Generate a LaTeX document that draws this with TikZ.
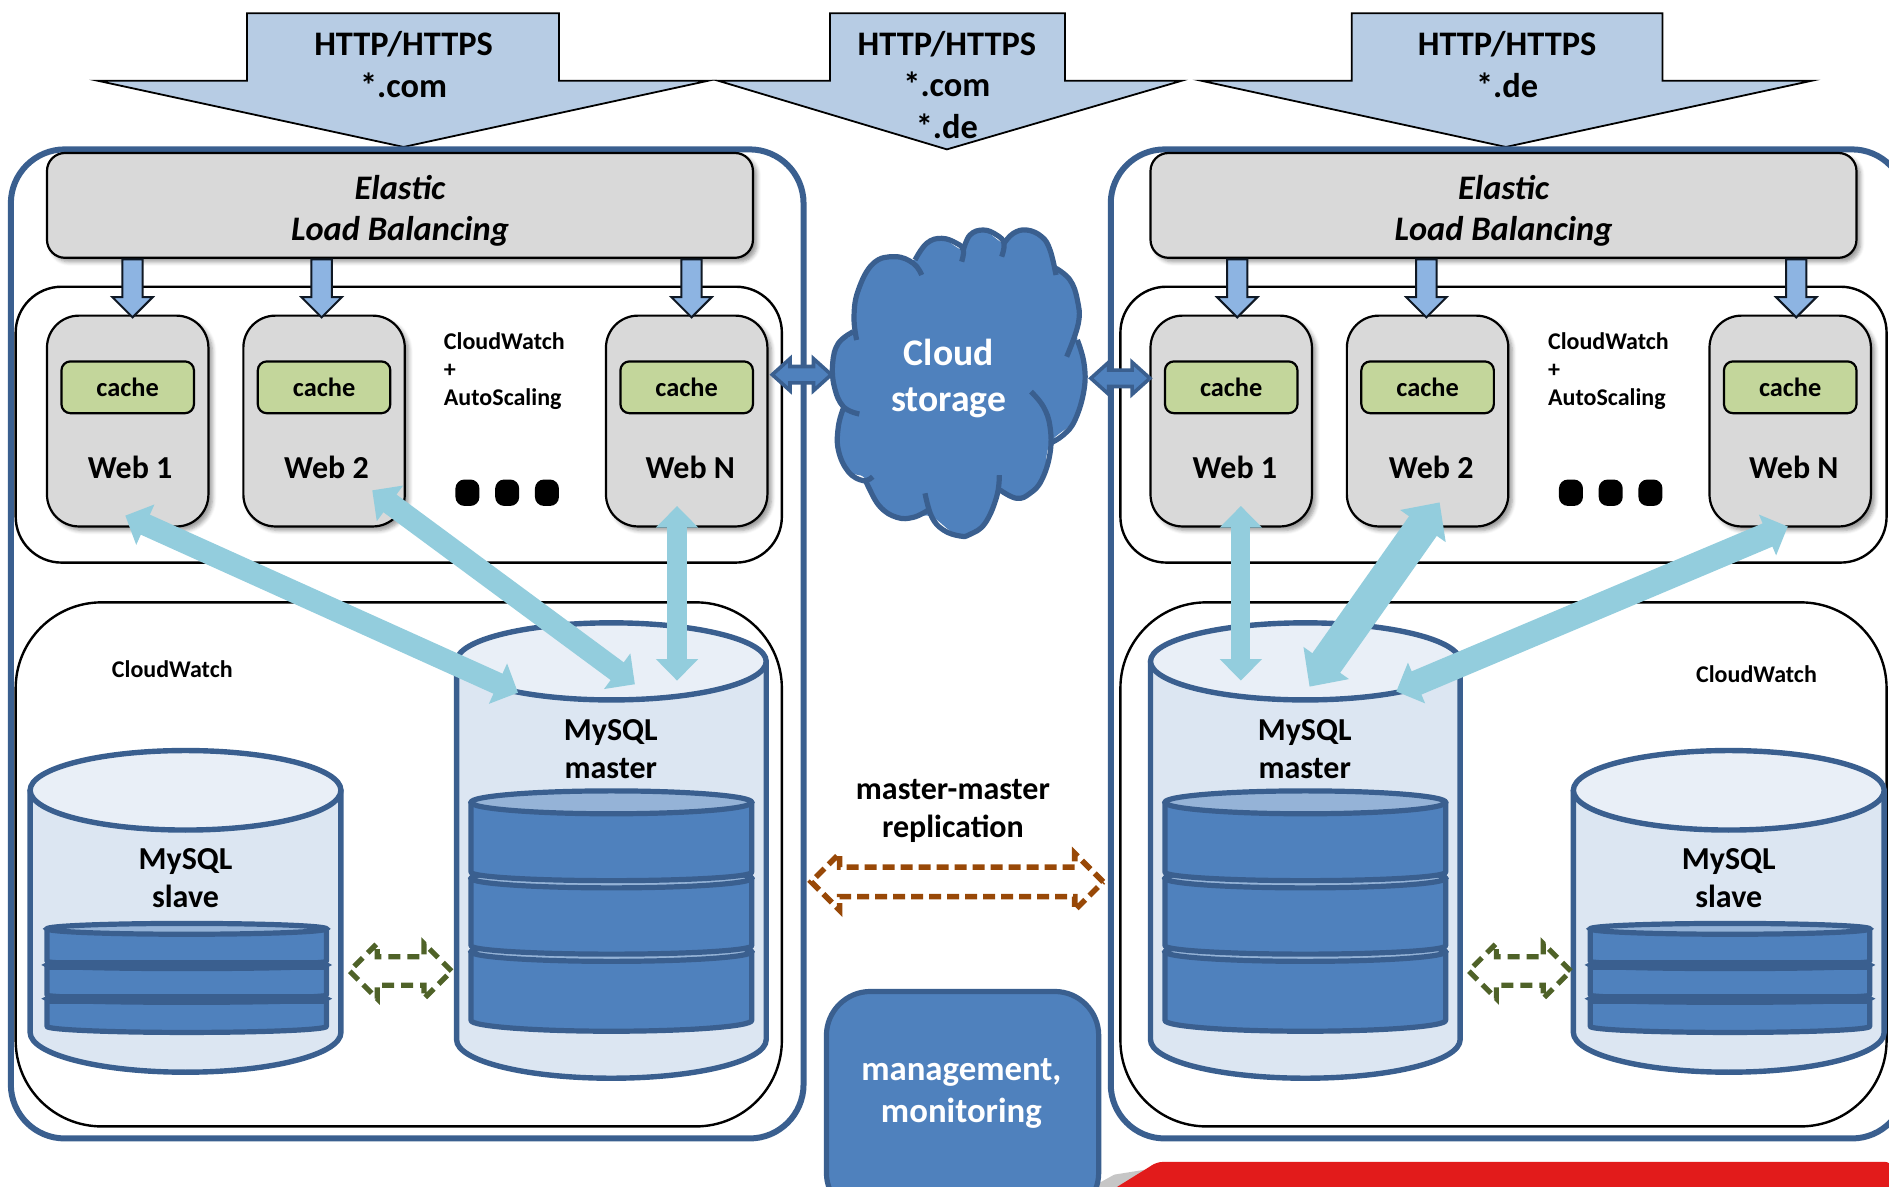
\documentclass[tikz,border=0pt]{standalone}
\usepackage{fontspec}
\setmainfont{Carlito}
\usetikzlibrary{arrows.meta,fit,shapes.arrows,shadows,shadows.blur}
\definecolor{lineB}{HTML}{3A5F8F}
\definecolor{diskB}{HTML}{4F81BD}
\definecolor{diskT}{HTML}{95B3D7}
\definecolor{canB}{HTML}{DCE6F2}
\definecolor{canT}{HTML}{E9EFF7}
\definecolor{topA}{HTML}{B7CCE4}
\definecolor{smallA}{HTML}{8DB4E2}
\definecolor{fatA}{HTML}{93CDDD}
\definecolor{cacheG}{HTML}{C3D69B}
\definecolor{grayB}{HTML}{D9D9D9}
\definecolor{brownA}{HTML}{984807}
\definecolor{greenA}{HTML}{4F6228}
\definecolor{redS}{HTML}{E21B1B}
\tikzset{
 base/.style={inner sep=0,outer sep=0,align=center,font=\bfseries},
 txtbig/.style={base,font=\fontsize{17.2}{20.9}\selectfont\bfseries},
 txtmid/.style={base,font=\fontsize{16}{19}\selectfont\bfseries},
 txtsmall/.style={base,align=left,font=\fontsize{12}{14.2}\selectfont\bfseries},
 txtelb/.style={base,font=\fontsize{17.2}{20.6}\selectfont\bfseries\itshape},
 txtcache/.style={base,font=\fontsize{13.2}{15}\selectfont\bfseries},
 outerbox/.style={base,draw=lineB,line width=3pt,rounded corners=27pt},
 grpweb/.style={base,draw=black,line width=1.2pt,rounded corners=23pt},
 grpdb/.style={base,draw=black,line width=1.2pt,rounded corners=43pt},
 elbbox/.style={base,draw=black,fill=grayB,line width=1.1pt,rounded corners=9pt,
   blur shadow={shadow xshift=2pt,shadow yshift=-2pt,shadow blur radius=2pt,shadow blur steps=5}},
 webbox/.style={base,draw=black,fill=grayB,line width=1.1pt,rounded corners=16pt,
   blur shadow={shadow xshift=2pt,shadow yshift=-2pt,shadow blur radius=2pt,shadow blur steps=5}},
 cachebox/.style={base,draw=black,fill=cacheG,line width=1.1pt,rounded corners=4.5pt},
 dotbox/.style={base,fill=black,minimum width=12pt,minimum height=13.2pt,rounded corners=4.5pt},
 toparrow/.style={draw=black,fill=topA,line width=.9pt,line join=miter},
 canstyle/.style={draw=lineB,fill=canB,line width=2.7pt,line join=round},
 cantop/.style={draw=lineB,fill=canT,line width=2.7pt},
 diskstyle/.style={draw=lineB,fill=diskB,line width=2.6pt,line join=round},
 disktop/.style={draw=lineB,fill=diskT,line width=2.6pt},
 diskdark/.style={draw=lineB,fill=lineB,line width=2.6pt},
 diskbar/.style={draw=lineB,line width=4.8pt},
 fat/.style n args={3}{draw=fatA,line width=#1,{Triangle[length=#3,width=#2,fill=fatA]}-{Triangle[length=#3,width=#2,fill=fatA]}},
 downarrow/.style={base,single arrow,draw=black!75!lineB,fill=smallA,line width=1pt,sloped,
   inner ysep=4.6pt,minimum height=29pt,single arrow head extend=5pt,single arrow tip angle=90,single arrow head indent=0pt},
 linkarrow/.style={base,double arrow,draw=lineB,fill=diskB,line width=1.8pt,
   inner ysep=3.2pt,minimum height=29.5pt,double arrow head extend=3.9pt,double arrow tip angle=84},
 repbrown/.style={base,double arrow,draw=brownA,line width=2.8pt,dash pattern=on 6pt off 3pt,
   inner ysep=6pt,minimum height=146pt,double arrow head extend=6.8pt,double arrow tip angle=90},
 repgreen/.style={base,double arrow,draw=greenA,line width=2.6pt,dash pattern=on 6pt off 3.5pt,
   inner ysep=5.8pt,minimum height=51pt,double arrow head extend=6.7pt,double arrow tip angle=90},
 mgmt/.style={base,draw=lineB,fill=diskB,line width=2.6pt,rounded corners=22pt,text=white},
 lobe/.style={draw=lineB,line width=2.6pt,line cap=butt},
}
\newcommand{\drawcan}[8]{%
 \pgfmathsetmacro\xm{(#1+#2)/2}\pgfmathsetmacro\rx{(#2-#1)/2}\pgfmathsetmacro\kx{0.5523*\rx}%
 \pgfmathsetmacro\kt{0.5523*#4}\pgfmathsetmacro\kb{0.5523*#6}%
 \draw[#7] (#1,#3) -- (#1,#5) .. controls (#1,{#5+\kb}) and ({\xm-\kx},{#5+#6}) .. (\xm,{#5+#6})
   .. controls ({\xm+\kx},{#5+#6}) and (#2,{#5+\kb}) .. (#2,#5) -- (#2,#3) -- cycle;
 \draw[#8] (#1,#3) .. controls (#1,{#3+\kt}) and ({\xm-\kx},{#3+#4}) .. (\xm,{#3+#4})
   .. controls ({\xm+\kx},{#3+#4}) and (#2,{#3+\kt}) .. (#2,#3)
   .. controls (#2,{#3-\kt}) and ({\xm+\kx},{#3-#4}) .. (\xm,{#3-#4})
   .. controls ({\xm-\kx},{#3-#4}) and (#1,{#3-\kt}) .. (#1,#3) -- cycle;
}
\newcommand{\mastercan}[2]{%
 \drawcan{#1}{\the\numexpr#1+257\relax}{549}{32}{863}{32}{canstyle}{cantop}%
 \node[txtmid] at (\the\numexpr#1+128\relax,621.5) (#2) {MySQL\\master};%
 \drawcan{\the\numexpr#1+12\relax}{\the\numexpr#1+245\relax}{790}{8}{847}{9}{diskstyle}{disktop}%
 \drawcan{\the\numexpr#1+12\relax}{\the\numexpr#1+245\relax}{729}{8}{785}{7}{diskstyle}{disktop}%
 \drawcan{\the\numexpr#1+12\relax}{\the\numexpr#1+245\relax}{666}{9.5}{724}{7}{diskstyle}{disktop}%
}
\newcommand{\slavecan}[2]{%
 \drawcan{#1}{\the\numexpr#1+258\relax}{656}{33}{857}{33}{canstyle}{cantop}%
 \node[txtmid] at (\the\numexpr#1+129\relax,729) (#2) {MySQL\\slave};%
 \drawcan{\the\numexpr#1+14\relax}{\the\numexpr#1+246\relax}{829}{3}{852}{5}{diskstyle}{diskdark}%
 \drawcan{\the\numexpr#1+14\relax}{\the\numexpr#1+246\relax}{801}{3}{826}{3}{diskstyle}{diskdark}%
 \drawcan{\the\numexpr#1+14\relax}{\the\numexpr#1+246\relax}{771}{4.5}{798}{3}{diskstyle}{disktop}%
 \draw[diskbar] (\the\numexpr#1+13\relax,801) -- (\the\numexpr#1+247\relax,801);%
 \draw[diskbar] (\the\numexpr#1+13\relax,829) -- (\the\numexpr#1+247\relax,829);%
}
\newcommand{\webunit}[4]{%
 \node[webbox,fit={(#1,262) (\the\numexpr#1+134\relax,437)}] (web#2) {};
 \node[cachebox,fit={(\the\numexpr#1+12\relax,300) (\the\numexpr#1+122\relax,343)}] (cache#2) {};
 \node[txtcache] (cachetxt#2) at (\the\numexpr#1+67\relax,321.5) {cache};
 \node[txtmid] (lab#2) at (\the\numexpr#1+#4\relax,388) {#3};
}
\begin{document}
\begin{tikzpicture}[x=0.60235pt,y=-0.60235pt]
\useasboundingbox (0,0) rectangle (1568,985.3);
\clip (0,0) rectangle (1568,985.3);
% red corner
\fill[gray!45] (905,986) -- (925,975) -- (950,971) -- (930,986) -- cycle;
\fill[redS] (926,986) -- (955,968) [rounded corners=3pt] -- (960,964.5) -- (1570,964.5) [sharp corners] -- (1570,986) -- cycle;
% top arrows
\draw[toparrow] (205,11) -- (464,11) -- (464,67) -- (588,67) -- (335,122) -- (81,67) -- (205,67) -- cycle;
\draw[toparrow] (689,11) -- (884,11) -- (884,67) -- (981,67) -- (786,124) -- (596,67) -- (689,67) -- cycle;
\draw[toparrow] (1122,11) -- (1380,11) -- (1380,67) -- (1504,67) -- (1250,122) -- (997,67) -- (1122,67) -- cycle;
\node[txtbig] (http1) at (335,53.5) {HTTP/HTTPS\\*.com};
\node[txtbig] (http2) at (786,70.5) {HTTP/HTTPS\\*.com\\*.de};
\node[txtbig] (http3) at (1251,53.5) {HTTP/HTTPS\\*.de};
% containers
\node[outerbox,fit={(9,124) (667,945)}] (outerL) {};
\node[outerbox,fit={(922,124) (1582,945)}] (outerR) {};
\node[grpweb,fit={(13,238) (649,467)}] (grpwebL) {};
\node[grpweb,fit={(930,238) (1566,467)}] (grpwebR) {};
\node[grpdb,fit={(13,500) (649,935)}] (grpdbL) {};
\node[grpdb,fit={(930,500) (1566,935)}] (grpdbR) {};
% load balancers
\node[elbbox,fit={(39,127) (625,214)}] (elbL) {};
\node[elbbox,fit={(955,127) (1541,214)}] (elbR) {};
\node[txtelb] (elbtxtL) at (332,175) {Elastic\\Load Balancing};
\node[txtelb] (elbtxtR) at (1248,175) {Elastic\\Load Balancing};
% web servers
\webunit{39}{La}{Web 1}{69}
\webunit{202}{Lb}{Web 2}{69}
\webunit{503}{Lc}{Web N}{70}
\webunit{955}{Ra}{Web 1}{70}
\webunit{1118}{Rb}{Web 2}{70}
\webunit{1419}{Rc}{Web N}{70}
\node[txtsmall,anchor=west] (cwL) at (368.5,308) {CloudWatch\\+\\AutoScaling};
\node[txtsmall,anchor=west] (cwR) at (1285,308) {CloudWatch\\+\\AutoScaling};
\node[dotbox] (d1) at (388,409) {};
\node[dotbox] (d2) at (421,409) {};
\node[dotbox] (d3) at (454,409) {};
\node[dotbox] (d4) at (1304,409) {};
\node[dotbox] (d5) at (1337,409) {};
\node[dotbox] (d6) at (1370,409) {};
% ELB arrows
\foreach \n/\xx in {a/110,b/267,c/574,d/1027,e/1184,f/1491}{
 \coordinate (s\n) at (\xx,214);
 \coordinate (t\n) at (\xx,262);
 \path (s\n) -- (t\n) node[pos=.44,downarrow] (arrow\n) {};
}
% databases
\node[txtsmall,align=center] (cwdbL) at (143,555.5) {CloudWatch};
\node[txtsmall,align=center] (cwdbR) at (1458,559.5) {CloudWatch};
\mastercan{379}{masterL}
\mastercan{955}{masterR}
\slavecan{25}{slaveL}
\slavecan{1306}{slaveR}
% fat arrows
\coordinate (fa1) at (104,428); \coordinate (fb1) at (430,575);
\coordinate (fa2) at (309,407); \coordinate (fb2) at (527,568);
\coordinate (fa3) at (562,420); \coordinate (fb3) at (562,565);
\coordinate (fa4) at (1030,420); \coordinate (fb4) at (1030,565);
\coordinate (fa5) at (1195,417); \coordinate (fb5) at (1087,570);
\coordinate (fa6) at (1484,437); \coordinate (fb6) at (1159,574);
\draw[fat={11pt}{21.5pt}{11pt}] (fa1) -- (fb1);
\draw[fat={11pt}{21.5pt}{11pt}] (fa2) -- (fb2);
\draw[fat={9.6pt}{20.5pt}{10.8pt}] (fa3) -- (fb3);
\draw[fat={9.6pt}{20.5pt}{10.8pt}] (fa4) -- (fb4);
\draw[fat={17pt}{27pt}{14.5pt}] (fa5) -- (fb5);
\draw[fat={12.6pt}{21.5pt}{11pt}] (fa6) -- (fb6);
% cloud
\begin{scope}[shift={(400pt,-100pt)},x=0.16667pt,y=-0.16667pt]
 \fill[diskB] plot[smooth cycle,tension=.6] coordinates {(103,560) (98,490) (115,430) (160,395) (175,270) (220,190) (285,170) (345,180) (380,130) (425,115) (490,150) (510,105) (550,90) (612,130) (640,100) (680,90) (725,110) (768,205) (810,240) (832,300) (832,420) (852,490) (852,570) (825,660) (750,730) (725,840) (650,895) (600,870) (555,970) (480,1008) (395,950) (340,952) (290,952) (240,920) (195,835) (145,815) (115,750) (115,680) (130,625)};
 \draw[lobe] plot[smooth,tension=.7] coordinates {(178,642) (130,620) (103,560) (98,490) (115,430) (160,395)};
 \draw[lobe] plot[smooth,tension=.7] coordinates {(170,420) (162,350) (175,270) (220,190) (285,170) (340,190) (365,225)};
 \draw[lobe] plot[smooth,tension=.7] coordinates {(345,180) (380,130) (425,115) (470,130) (490,150) (485,185)};
 \draw[lobe] plot[smooth,tension=.7] coordinates {(490,150) (510,105) (550,90) (590,105) (612,130) (605,170)};
 \draw[lobe] plot[smooth,tension=.7] coordinates {(612,130) (640,100) (680,90) (725,110) (750,150) (768,225)};
 \draw[lobe] plot[smooth,tension=.7] coordinates {(768,205) (810,240) (832,300) (835,370) (800,470)};
 \draw[lobe] plot[smooth,tension=.7] coordinates {(832,420) (852,490) (852,570) (825,660) (790,705) (750,730)};
 \draw[lobe] plot[smooth,tension=.7] coordinates {(693,575) (730,620) (750,680) (750,760) (725,840) (690,880) (650,895) (600,870)};
 \draw[lobe] plot[smooth,tension=.7] coordinates {(598,825) (590,890) (555,970) (510,1003) (480,1008) (430,990) (395,950) (375,880)};
 \draw[lobe] plot[smooth,tension=.7] coordinates {(385,930) (340,952) (290,952) (240,920) (205,860) (195,835)};
 \draw[lobe] plot[smooth,tension=.7] coordinates {(218,830) (190,842) (145,815) (115,750) (115,680) (130,625)};
\end{scope}
\node[base,text=white,font=\fontsize{18.8}{22.9}\selectfont\bfseries] (cloud) at (787.5,314.5) {Cloud\\storage};
% links to cloud
\coordinate (la) at (641,311); \coordinate (lb) at (690,311);
\coordinate (ra) at (905,314); \coordinate (rb) at (955,314);
\path (la) -- (lb) node[midway,linkarrow] (linkL) {};
\path (ra) -- (rb) node[midway,linkarrow] (linkR) {};
% replication
\node[txtmid] (mm) at (791,673) {master-master\\replication};
\coordinate (ba) at (672.5,732); \coordinate (bb) at (916.5,732);
\path (ba) -- (bb) node[midway,repbrown] (repM) {};
\coordinate (ga) at (289,806); \coordinate (gb) at (376,806);
\path (ga) -- (gb) node[midway,repgreen] (repL) {};
\coordinate (gc) at (1218,806); \coordinate (gd) at (1305,806);
\path (gc) -- (gd) node[midway,repgreen] (repR) {};
% management
\node[mgmt,fit={(686,823) (912,1010)}] (mgmtbox) {};
\node[base,text=white,font=\fontsize{17.4}{20.9}\selectfont\bfseries] (mgmttext) at (798,907.5) {management,\\monitoring};
\end{tikzpicture}
\end{document}
